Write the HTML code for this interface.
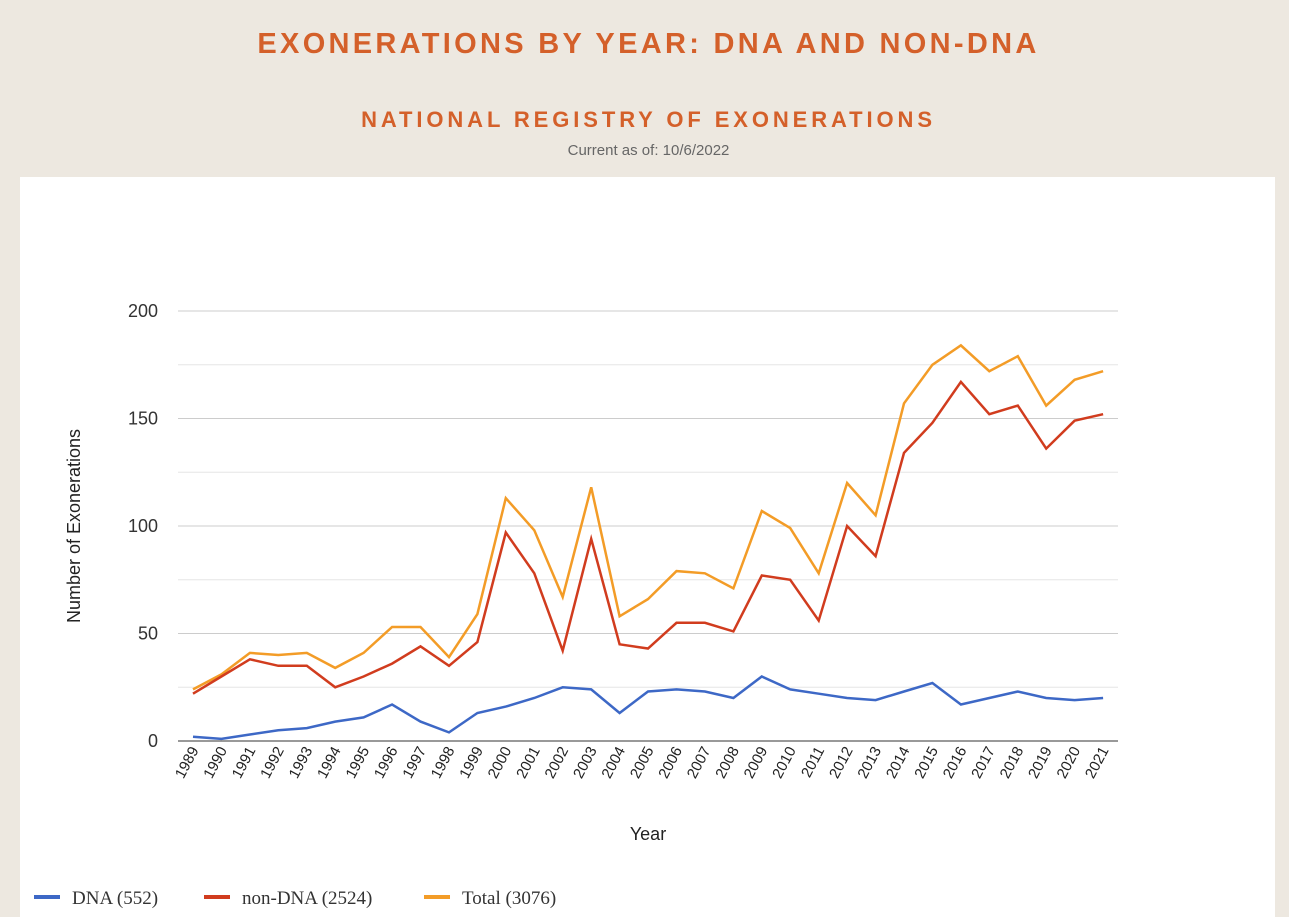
<!DOCTYPE html>
<html><head><meta charset="utf-8"><style>
body{margin:0;width:1289px;height:913px;background:#ede8e0;overflow:hidden;font-family:"Liberation Sans",sans-serif}
.t1{position:absolute;top:28px;left:0;width:1297px;text-align:center;color:#d4602a;font-weight:bold;font-size:29px;letter-spacing:3.3px}
.t2{position:absolute;top:107px;left:0;width:1297px;text-align:center;color:#d4602a;font-weight:bold;font-size:22px;letter-spacing:3.9px}
.t3{position:absolute;top:142px;left:0;width:1297px;text-align:center;color:#666;font-size:15px}
.panel{position:absolute;left:20px;top:177px;width:1255px;height:740px;background:#fff}
</style></head><body>
<div class="t1">EXONERATIONS BY YEAR: DNA AND NON-DNA</div>
<div class="t2">NATIONAL REGISTRY OF EXONERATIONS</div>
<div class="t3">Current as of: 10/6/2022</div>
<div class="panel"></div>
<svg id="s" width="1289" height="913" style="position:absolute;left:0;top:0" font-family="Liberation Sans, sans-serif"></svg>
<script>
var T=[24,31,41,40,41,34,41,53,53,39,59,113,98,67,118,58,66,79,78,71,107,99,78,120,105,157,175,184,172,179,156,168,172];
var N=[22,30,38,35,35,25,30,36,44,35,46,97,78,42,94,45,43,55,55,51,77,75,56,100,86,134,148,167,152,156,136,149,152];
var D=[2,1,3,5,6,9,11,17,9,4,13,16,20,25,24,13,23,24,23,20,30,24,22,20,19,23,27,17,20,23,20,19,20];
function X(i){return 193+i*28.44}function Y(v){return 741-v*2.15}
var h='';
for(var k=0;k<=8;k++){var y=Y(k*25);h+='<line x1="178" x2="1118" y1="'+y+'" y2="'+y+'" stroke="'+(k==0?'#333':(k%2?'#e6e6e6':'#ccc'))+'" stroke-width="1"/>';
if(k%2==0)h+='<text x="158" y="'+(y+6)+'" text-anchor="end" font-size="18" fill="#333">'+(k*25)+'</text>';}
for(var i=0;i<33;i++){var x=X(i);h+='<text transform="translate('+(x+6)+',750) rotate(-62)" text-anchor="end" font-size="15" fill="#222">'+(1989+i)+'</text>';}
function pl(a,c){return '<polyline fill="none" stroke="'+c+'" stroke-width="2.5" points="'+a.map(function(v,i){return X(i).toFixed(1)+','+Y(v).toFixed(1)}).join(' ')+'"/>';}
h+=pl(T,'#f39c27')+pl(N,'#d13c1e')+pl(D,'#3d68c6');
h+='<text x="648" y="840" text-anchor="middle" font-size="18" fill="#222">Year</text>';
h+='<text transform="translate(80,526) rotate(-90)" text-anchor="middle" font-size="18" fill="#222">Number of Exonerations</text>';
var L=[[34,'#3d68c6','DNA (552)'],[204,'#d13c1e','non-DNA (2524)'],[424,'#f39c27','Total (3076)']];
L.forEach(function(l){h+='<line x1="'+l[0]+'" x2="'+(l[0]+26)+'" y1="897" y2="897" stroke="'+l[1]+'" stroke-width="4"/><text x="'+(l[0]+38)+'" y="904" font-family="Liberation Serif, serif" font-size="19" fill="#333">'+l[2]+'</text>';});
document.getElementById('s').innerHTML=h;
</script>
</body></html>
